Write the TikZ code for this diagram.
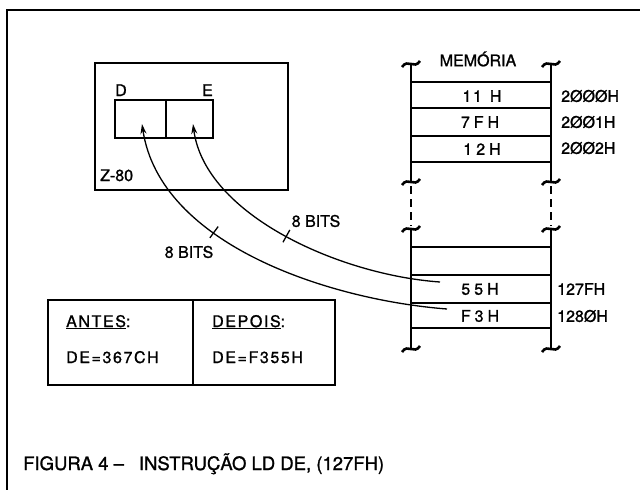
\documentclass[tikz,border=0pt]{standalone}
\usepackage{fontspec}
\setmainfont[FakeBold=1.2]{TeX Gyre Heros}
\newfontfamily\spaced[LetterSpace=10,FakeBold=1.2]{TeX Gyre Heros}
\usetikzlibrary{arrows.meta}
\tikzset{
  rail/.style={line width=2.8pt},
  row/.style={line width=1.4pt},
  cell/.style={font=\fontsize{16}{18}\selectfont\spaced, inner sep=0pt},
  addr/.style={font=\fontsize{16}{18}\selectfont, anchor=west, inner sep=0pt},
  reg/.style={draw, line width=1.4pt, minimum height=38pt, inner sep=0pt},
  lbl/.style={font=\fontsize{16}{18}\selectfont, inner sep=0pt},
  boxtext/.style={font=\fontsize{16}{18}\selectfont\spaced, inner sep=0pt, anchor=base west},
  bits/.style={line width=1.3pt, -{Stealth[length=10pt,width=6pt]}},
  tickmark/.style={draw, line width=1.3pt, inner sep=0pt, minimum width=0pt, minimum height=14pt},
}
\newcommand{\memwave}[2]{\draw[line width=2.6pt] (#1-9,#2+3) .. controls (#1-3,#2-6) and (#1+3,#2+6) .. (#1+9,#2-3);}
\begin{document}
\begin{tikzpicture}[x=1pt,y=-1pt]
        \useasboundingbox (0,0) rectangle (640,490);

        % Frame
        \draw[line width=2pt] (7,490) -- (7,10) -- (640,10);

        % Z-80 with registers D and E
        \node[draw, line width=2.6pt, minimum width=193pt, minimum height=127pt] (cpu) at (191.5,126.5) {};
        \node[reg, minimum width=51pt] (regD) at (140.5,119) {};
        \node[reg, minimum width=47pt] (regE) at (189.5,119) {};
        \node[lbl, anchor=base west] (labD) at (115,96) {D};
        \node[lbl, anchor=base east] (labE) at (213,96) {E};
        \node[lbl, anchor=base west] (labZ) at (100,181) {Z-80};
        \coordinate (tipD) at (142,124);
        \coordinate (tipE) at (193,124);

        % Memory
        \node[lbl] (memtitle) at (478,59) {MEMÓRIA};
        \foreach \x in {411,551} {
            \draw[rail] (\x,64) -- (\x,182);
            \draw[line width=1.8pt, dash pattern=on 8pt off 5pt] (\x,186) -- (\x,226);
            \draw[rail] (\x,229) -- (\x,349);
            \memwave{\x}{64}
            \memwave{\x}{182}
            \memwave{\x}{229}
            \memwave{\x}{349}
        }
        \foreach \y in {82,108,136,162,247,275,303,328}
            \draw[row] (411,\y) -- (551,\y);

        \node[cell] (m2000) at (482,96) {11\hspace{8pt}H};
        \node[cell] (m2001) at (480,122) {7\hspace{4pt}F\hspace{4pt}H};
        \node[cell] (m2002) at (482,149) {1\hspace{4pt}2\hspace{4pt}H};
        \node[cell] (m127F) at (480,289) {5\hspace{4pt}5\hspace{4pt}H};
        \node[cell] (m1280) at (480,316) {F\hspace{4pt}3\hspace{4pt}H};

        \node[addr] (a2000) at (561,96) {2ØØØH};
        \node[addr] (a2001) at (561,122) {2ØØ1H};
        \node[addr] (a2002) at (561,148) {2ØØ2H};
        \node[addr] (a127F) at (557,289) {127FH};
        \node[addr] (a1280) at (557,316) {128ØH};
        \coordinate (srcE) at (440,282);
        \coordinate (srcD) at (447,309);

        % 8 bits each way
        \draw[bits] (srcE) .. controls (340,275) and (205,215) .. (tipE)
            node[tickmark, pos=0.49, sloped] (tickE) {};
        \draw[bits] (srcD) .. controls (330,300) and (160,245) .. (tipD)
            node[tickmark, pos=0.63, sloped] (tickD) {};
        \node[lbl] (bitsE) at (316,221) {8 BITS};
        \node[lbl] (bitsD) at (189,252) {8 BITS};

        % Before and after
        \node[draw, line width=2.6pt, minimum width=145pt, minimum height=85pt] (antes) at (120.5,342.5) {};
        \node[draw, line width=2.6pt, minimum width=142pt, minimum height=85pt] (depois) at (264,342.5) {};
        \node[boxtext] (antesT) at (66,327) {\underline{ANTES}:};
        \node[boxtext] (antesV) at (66,363) {DE=367CH};
        \node[boxtext] (depoisT) at (212,327) {\underline{DEPOIS}:};
        \node[boxtext] (depoisV) at (212,363) {DE=F355H};

        % Caption
        \node[font=\fontsize{18.5}{20}\selectfont, anchor=base west, inner sep=0pt] (caption) at (23,470)
            {FIGURA 4 --\hspace{15pt}INSTRUÇÃO LD DE, (127FH)};
    \end{tikzpicture}
\end{document}
